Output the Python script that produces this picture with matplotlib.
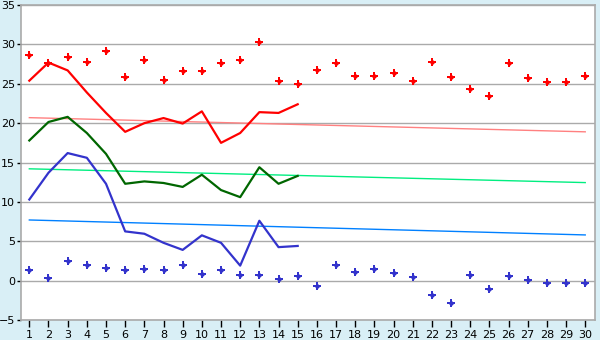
import matplotlib
matplotlib.use("Agg")
import matplotlib.pyplot as plt
import numpy as np

days = list(range(1, 31))
days15 = list(range(1, 16))

max_pts = [28.6, 27.7, 28.35, 27.8, 29.2, 25.9, 28.0, 25.5, 26.6, 26.6,
           27.7, 28.0, 30.25, 25.3, 25.0, 26.7, 27.6, 26.05, 26.05, 26.4,
           25.4, 27.8, 25.9, 24.4, 23.5, 27.6, 25.7, 25.2, 25.2, 26.05]
min_pts = [1.4, 0.35, 2.5, 2.0, 1.6, 1.4, 1.5, 1.4, 2.0, 0.87,
           1.4, 0.75, 0.75, 0.23, 0.6, -0.65, 2.0, 1.1, 1.5, 1.0,
           0.5, -1.8, -2.8, 0.75, -1.05, 0.6, 0.1, -0.3, -0.3, -0.3]
red_line = [25.4, 27.7, 26.7, 23.9, 21.3, 18.9, 20.0, 20.65, 19.95, 21.5,
            17.5, 18.75, 21.4, 21.3, 22.4]
green_line = [17.8, 20.15, 20.8, 18.75, 16.1, 12.3, 12.6, 12.4, 11.9, 13.45,
              11.5, 10.6, 14.4, 12.3, 13.3]
blue_line = [10.3, 13.7, 16.2, 15.6, 12.3, 6.25, 5.95, 4.8, 3.9, 5.75,
             4.8, 1.9, 7.6, 4.25, 4.4]
red_trend = [20.7, 18.9]
green_trend = [14.2, 12.45]
blue_trend = [7.7, 5.8]
trend_x = [1, 30]

fig = plt.figure(figsize=(6, 3.4), dpi=100)
fig.patch.set_facecolor("#d9eff6")
ax = fig.add_axes([0.0345, 0.059, 0.9575, 0.926])
ax.set_facecolor("white")

ax.set_xlim(0.55, 30.52)
ax.set_ylim(-5, 35)
ax.set_yticks(range(-5, 36, 5))
ax.set_xticks(days)
ax.grid(axis="y", color="#aaaaaa", linewidth=1)
ax.set_axisbelow(True)
for s in ax.spines.values():
    s.set_color("#aaaaaa")
    s.set_linewidth(1.2)

ax.plot(trend_x, red_trend, color="#ff8080", linewidth=1)
ax.plot(trend_x, green_trend, color="#00ee80", linewidth=1)
ax.plot(trend_x, blue_trend, color="#0080ff", linewidth=1)

ax.plot(days15, red_line, color="#ff0000", linewidth=1.6)
ax.plot(days15, green_line, color="#006600", linewidth=1.6)
ax.plot(days15, blue_line, color="#3333cc", linewidth=1.6)

for pts, col in ((max_pts, "#ff0000"), (min_pts, "#3333cc")):
    ax.plot(days, pts, linestyle="none", marker="P", markersize=5.2,
            color=col, markeredgewidth=0)
    ax.plot(days, pts, linestyle="none", marker="D", markersize=3,
            color=col, markeredgewidth=0)

ax.tick_params(axis="x", direction="out", length=5, color="black", width=1,
               labelsize=8, pad=2)
ax.tick_params(axis="y", direction="out", length=3, color="black", width=1,
               labelsize=8, pad=1)

fig.savefig("out.png", dpi=100, facecolor=fig.get_facecolor())
